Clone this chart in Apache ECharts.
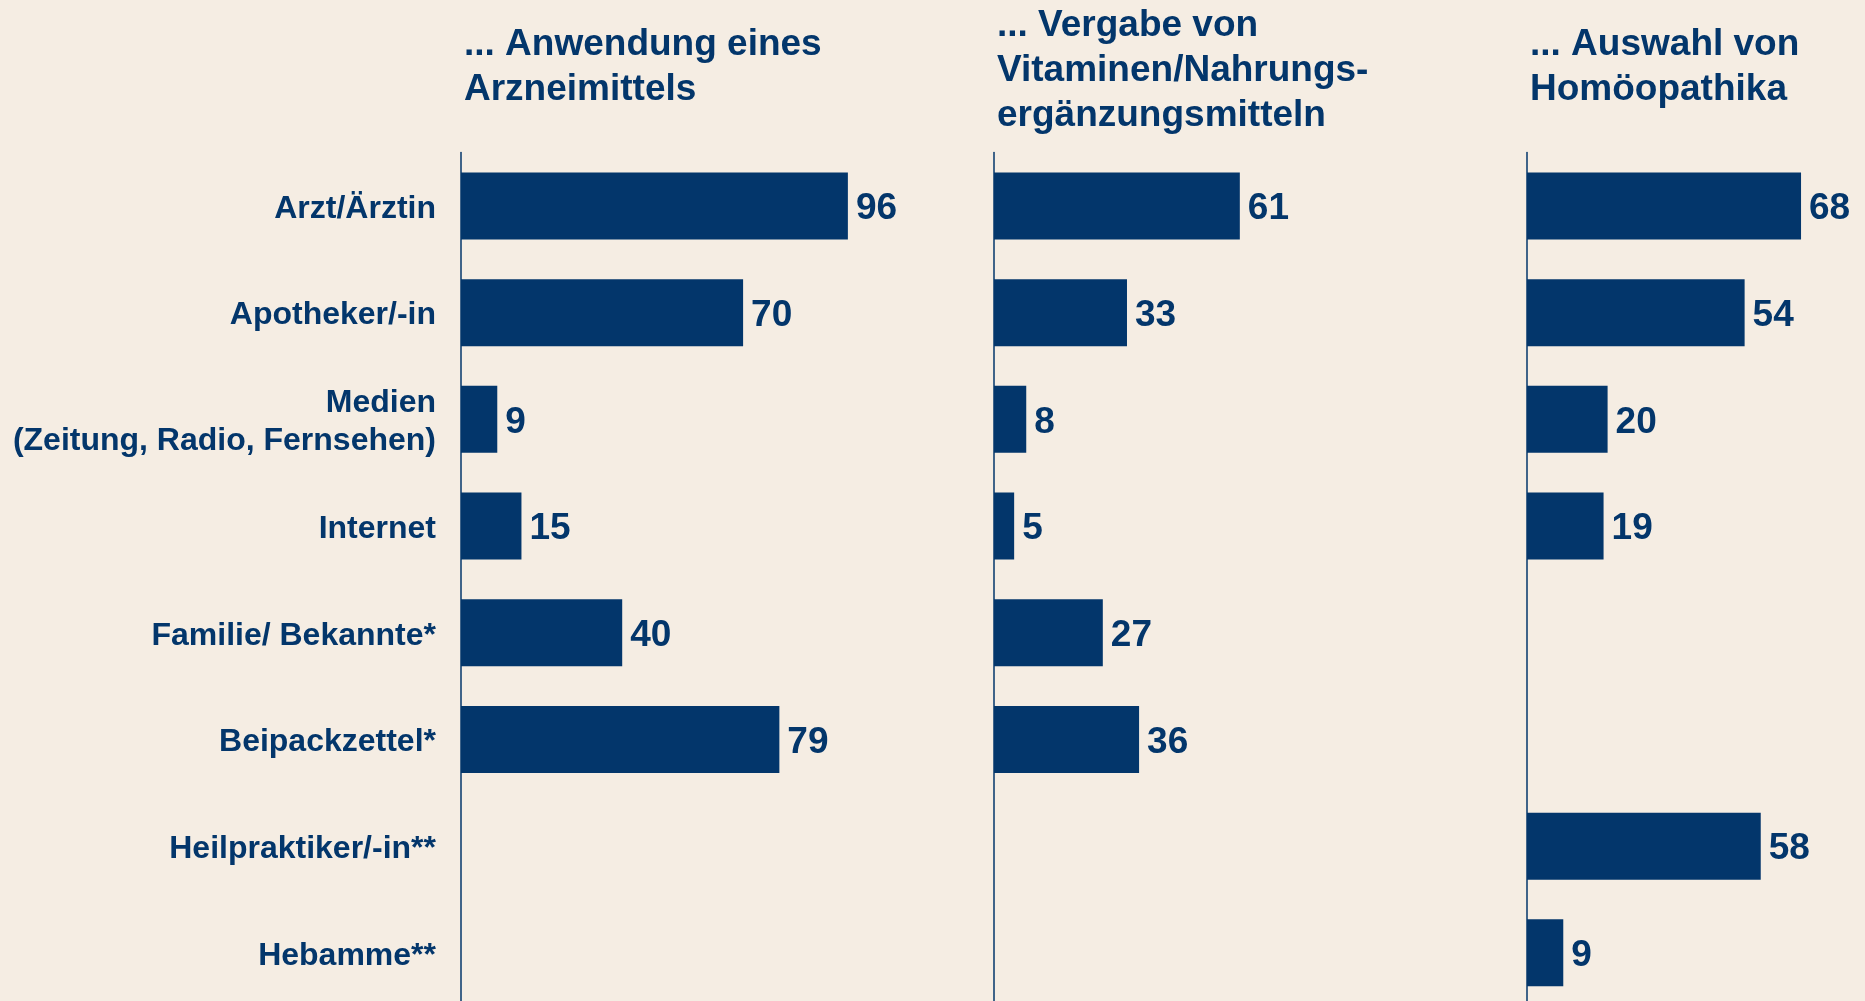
<body style="margin:0; background:#f5ede3; overflow:hidden;">
    <div id='main' style="width:1940px; height:1012px;"></div>
</body>

<script src="https://cdn.jsdelivr.net/npm/echarts@6.0.0/dist/echarts.min.js"></script>
<script>

var categories = ['Arzt/Ärztin', 'Apotheker/-in', 'Medien\n(Zeitung, Radio, Fernsehen)', 'Internet',
    'Familie/ Bekannte*', 'Beipackzettel*', 'Heilpraktiker/-in**', 'Hebamme**'];

var panelTitles = ['... Anwendung eines\nArzneimittels',
    '... Vergabe von\nVitaminen/Nahrungs-\nergänzungsmitteln',
    '... Auswahl von\nHomöopathika'];

var arzneimittel = [96, 70, 9, 15, 40, 79, null, null];
var vitamine = [61, 33, 8, 5, 27, 36, null, null];
var homoeopathika = [68, 54, 20, 19, null, null, 58, 9];

var navy = '#03366b';
var font = '"Liberation Sans", Arial, sans-serif';

var chartDom = document.getElementById('main');
var myChart = echarts.init(chartDom);
var option;

// the plot runs past the bottom/right of the visible window, as in the original
var lefts = [461, 994, 1527];
var titleTops = [22.5, 3.5, 22.5];
var allData = [arzneimittel, vitamine, homoeopathika];

var grids = [], xAxes = [], yAxes = [], series = [], titles = [];

lefts.forEach(function (left, i) {
    grids.push({ left: left, top: 152.6, width: 403, height: 853.6 });
    xAxes.push({
        type: 'value', gridIndex: i, min: 0, max: 100,
        show: false
    });
    yAxes.push({
        type: 'category', gridIndex: i, inverse: true,
        data: categories,
        axisLine: { show: true, lineStyle: { color: navy, width: 1.5 } },
        axisTick: { show: false },
        axisLabel: {
            show: i === 0,
            margin: 25, align: 'right',
            // each line wrapped so it sits a little lower, like the original
            formatter: function (v) {
                return v.split('\n').map(function (s) { return '{c|' + s + '}'; }).join('\n');
            },
            rich: {
                c: {
                    color: navy, fontSize: 32, fontWeight: 'bold', fontFamily: font,
                    lineHeight: 38, padding: [6, 0, 0, 0], align: 'right'
                }
            }
        }
    });
    series.push({
        type: 'bar', xAxisIndex: i, yAxisIndex: i,
        data: allData[i],
        barWidth: 67,
        itemStyle: { color: navy },
        label: {
            show: true, position: 'right', distance: 8, offset: [0, 3],
            color: navy, fontSize: 37, fontWeight: 'bold', fontFamily: font
        },
        silent: true
    });
    titles.push({
        text: panelTitles[i],
        left: left + 3, top: titleTops[i],
        padding: 0,
        textStyle: { color: navy, fontSize: 37, fontWeight: 'bold', fontFamily: font, lineHeight: 45 }
    });
});

option = {
    backgroundColor: '#f5ede3',
    animation: false,
    title: titles,
    grid: grids,
    xAxis: xAxes,
    yAxis: yAxes,
    series: series
};

option && myChart.setOption(option);

</script>
